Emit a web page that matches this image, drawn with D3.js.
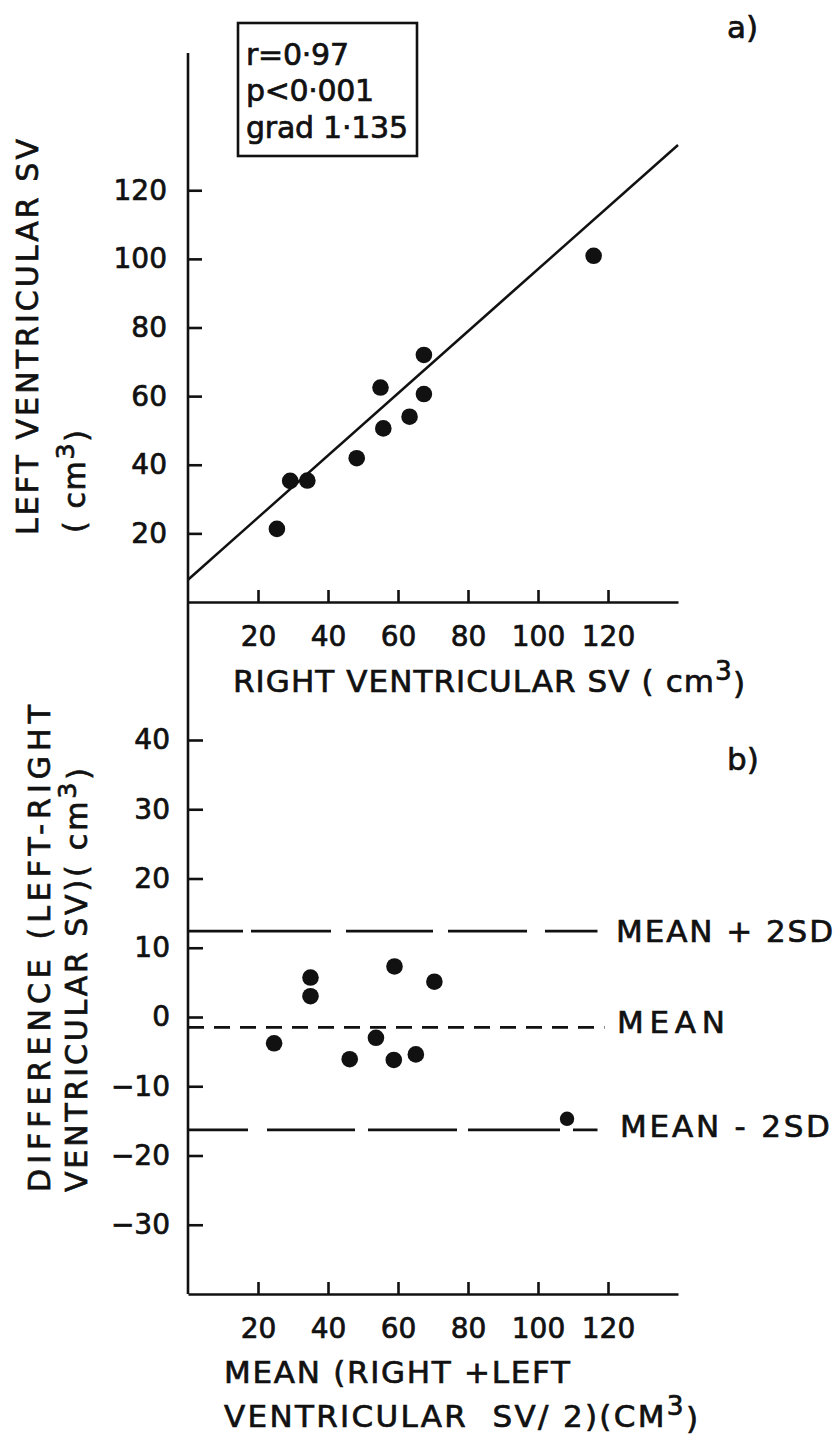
<!DOCTYPE html>
<html>
<head>
<meta charset="utf-8">
<script src="https://cdn.jsdelivr.net/npm/d3@7"></script>
<style>
    body { margin: 0; background: #fff; }
    svg text { font-family: "DejaVu Sans", sans-serif; fill: #111; stroke: #111; stroke-width: 0.7px; }
</style>
</head>
<body>
<svg id="chart" width="838" height="1436"></svg>
<script>

// **********************************************************
//                         Data
// **********************************************************

const svTicks = [20, 40, 60, 80, 100, 120];
const diffTicks = [-30, -20, -10, 0, 10, 20, 30, 40];

// a) right vs left ventricular stroke volume (cm3)
const rvSV = [25.4, 29.2, 34.1, 48.2, 55.0, 55.8, 63.3, 67.4, 67.4, 115.9];
const lvSV = [21.3, 35.3, 35.4, 41.9, 62.5, 50.6, 54.0, 72.0, 60.6, 100.9];
const regIntercept = 6.5;
const regSlope = 0.905;
const statsLines = ["r=0\u00b797", "p<0\u00b7001", "grad 1\u00b7135"];

// b) difference against mean
const meanSV = [24.6, 35.0, 35.0, 46.2, 53.7, 59.0, 58.8, 65.1, 70.4, 108.3];
const diffSV = [-3.8, 5.7, 3.0, -6.1, -3.0, 7.3, -6.2, -5.4, 5.1, -14.7];
const limitLabels = ["MEAN + 2SD", "MEAN", "MEAN - 2SD"];
const limitValues = [12.4, -1.5, -16.3];


// **********************************************************
//                     Scales & helpers
// **********************************************************

const svg = d3.select("#chart");

const x = d3.scaleLinear().domain([0, 140]).range([188, 678]);
const yTop = d3.scaleLinear().domain([0, 160]).range([602, 53]);
const yBot = d3.scaleLinear().domain([-40, 40]).range([1294, 740]);

const limitEnds = [117, 119, 117];
const limitDash = ["55,8,80,15,87,15,79,18,60", "16,10", "60,19,88,13,89,11,92,13,30"];
const limitLabelPos = [{x: 616, y: 942, w: 217}, {x: 617, y: 1033, w: 108}, {x: 620, y: 1137, w: 210}];

// stretch a text with letter spacing so that it covers a given width
function fit(sel, width) {
    sel.each(function() {
        const n = this.getNumberOfChars();
        const w = this.getComputedTextLength();
        d3.select(this).style("letter-spacing", ((width - w) / (n - 1)) + "px");
    });
    return sel;
}

// text with a superscript "3" (cm3)
function label(parent, before, after, fontSize) {
    const t = parent.append("text").attr("font-size", fontSize);
    t.append("tspan").text(before);
    t.append("tspan").attr("dy", "-0.45em").attr("font-size", "85%").text("3");
    t.append("tspan").attr("dy", "0.45em").text(after);
    return t;
}

function styleAxis(g) {
    g.attr("font-size", 28).attr("font-family", null);
    g.selectAll("line, path").attr("stroke", "#111").attr("stroke-width", 2.6);
    g.selectAll("text").attr("fill", "#111");
}


// **********************************************************
//                     a) top panel
// **********************************************************

// one y axis line running through both panels
svg.append("line")
    .attr("x1", x(0)).attr("x2", x(0))
    .attr("y1", yTop(160)).attr("y2", yBot(-40))
    .attr("stroke", "#111").attr("stroke-width", 2.6);

svg.append("g")
    .attr("transform", `translate(0,${yTop(0)})`)
    .call(d3.axisBottom(x).tickValues(svTicks).tickSizeInner(-12).tickSizeOuter(0).tickPadding(24))
    .call(styleAxis);

svg.append("g")
    .attr("transform", `translate(${x(0)},0)`)
    .call(d3.axisLeft(yTop).tickValues(svTicks).tickSizeInner(-14).tickSizeOuter(0).tickPadding(21))
    .call(g => g.select(".domain").remove())
    .call(styleAxis);

const lineFunction = d3.line().x(d => x(d)).y(d => yTop(regIntercept + regSlope * d));
svg.append("path")
    .attr("d", lineFunction([0, 140]))
    .attr("fill", "none").attr("stroke", "#111").attr("stroke-width", 2.5);

svg.append("g").selectAll("circle")
    .data(rvSV)
    .enter()
    .append("circle")
    .attr("cx", d => x(d))
    .attr("cy", (d, i) => yTop(lvSV[i]))
    .attr("r", 8.3)
    .attr("fill", "#111");

// stats box
svg.append("rect")
    .attr("x", 238).attr("y", 23).attr("width", 179).attr("height", 133)
    .attr("fill", "none").attr("stroke", "#111").attr("stroke-width", 2.6);

const statWidths = [103, 128, 162];
statsLines.forEach((s, i) => {
    svg.append("text")
        .attr("x", 246).attr("y", 64.5 + i * 36.5)
        .attr("font-size", 30)
        .text(s)
        .call(fit, statWidths[i]);
});

svg.append("text").attr("x", 727).attr("y", 38).attr("font-size", 31).text("a)");

// axis titles
label(svg, "RIGHT VENTRICULAR SV ( cm", ")", 31)
    .attr("x", 233).attr("y", 692)
    .call(fit, 512);

svg.append("text")
    .attr("transform", "translate(38,535) rotate(-90)")
    .attr("font-size", 30)
    .text("LEFT VENTRICULAR SV")
    .call(fit, 396);

label(svg, "( cm", ")", 30)
    .attr("transform", "translate(85,533) rotate(-90)")
    .call(fit, 103);


// **********************************************************
//                     b) bottom panel
// **********************************************************

svg.append("g")
    .attr("transform", `translate(0,${yBot(-40)})`)
    .call(d3.axisBottom(x).tickValues(svTicks).tickSizeInner(-12).tickSizeOuter(0).tickPadding(24))
    .call(styleAxis);

svg.append("g")
    .attr("transform", `translate(${x(0)},0)`)
    .call(d3.axisLeft(yBot).tickValues(diffTicks).tickSizeInner(-15).tickSizeOuter(0).tickPadding(18))
    .call(g => g.select(".domain").remove())
    .call(styleAxis);

// mean and limits of agreement
limitValues.forEach((v, i) => {
    svg.append("line")
        .attr("x1", x(0)).attr("x2", x(limitEnds[i]))
        .attr("y1", yBot(v)).attr("y2", yBot(v))
        .attr("stroke", "#111").attr("stroke-width", 2.6)
        .attr("stroke-dasharray", limitDash[i]);
    svg.append("text")
        .attr("x", limitLabelPos[i].x).attr("y", limitLabelPos[i].y)
        .attr("font-size", 31)
        .text(limitLabels[i])
        .call(fit, limitLabelPos[i].w);
});

svg.append("g").selectAll("circle")
    .data(meanSV)
    .enter()
    .append("circle")
    .attr("cx", d => x(d))
    .attr("cy", (d, i) => yBot(diffSV[i]))
    .attr("r", (d, i) => i === meanSV.length - 1 ? 7.2 : 8.3)
    .attr("fill", "#111");

svg.append("text").attr("x", 727).attr("y", 770).attr("font-size", 31).text("b)");

// axis titles
svg.append("text")
    .attr("x", 224).attr("y", 1383)
    .attr("font-size", 31)
    .text("MEAN (RIGHT +LEFT")
    .call(fit, 346);

label(svg, "VENTRICULAR  SV/ 2)(CM", ")", 31)
    .attr("x", 224).attr("y", 1427)
    .style("white-space", "pre")
    .call(fit, 474);

svg.append("text")
    .attr("transform", "translate(50,1192) rotate(-90)")
    .attr("font-size", 30)
    .text("DIFFERENCE (LEFT-RIGHT")
    .call(fit, 487);

label(svg, "VENTRICULAR SV)( cm", ")", 30)
    .attr("transform", "translate(87,1192) rotate(-90)")
    .call(fit, 424);

</script>
</body>
</html>
